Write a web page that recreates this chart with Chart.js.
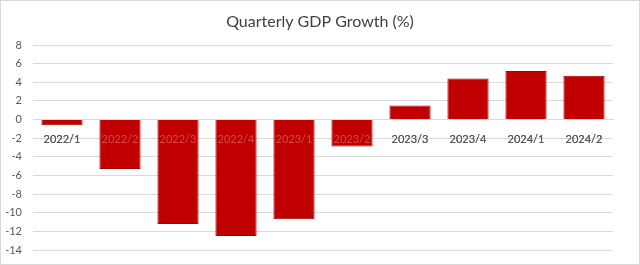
<!DOCTYPE html>
<html lang="en">
<head>
    <meta charset="UTF-8">
    <title>Quarterly GDP Growth (%)</title>
    <style>
        body {
            margin: 0;
            background: #ffffff;
        }
        .chart-box {
            width: 640px;
            height: 265px;
            box-sizing: border-box;
            border: 1px solid #d9d9d9;
            position: relative;
        }
    </style>
</head>
<body>
    <div class="chart-box">
        <canvas id="gdpChart"></canvas>
    </div>

    <script src="https://cdn.jsdelivr.net/npm/chart.js@4.4.3/dist/chart.umd.min.js"></script>
    <script>
        // datos
        const quarters = ['2022/1', '2022/2', '2022/3', '2022/4', '2023/1', '2023/2', '2023/3', '2023/4', '2024/1', '2024/2'];
        const growth = [-0.6, -5.3, -11.2, -12.5, -10.7, -2.9, 1.5, 4.4, 5.2, 4.7];
        const yTicks = [8, 6, 4, 2, 0, -2, -4, -6, -8, -10, -12, -14];
        const chartTitle = 'Quarterly GDP Growth (%)';

        // titulo centrado en todo el lienzo y etiquetas del eje x encima de las barras
        const extras = {
            id: 'extras',
            afterDatasetsDraw: (chart) => {
                const c = chart.ctx;
                c.save();
                chart.scales.x.drawLabels(chart.chartArea);
                c.restore();

                c.save();
                c.font = '16px Lato';
                c.fillStyle = '#404040';
                c.textAlign = 'center';
                c.textBaseline = 'middle';
                c.fillText(chartTitle, chart.width / 2, 21);
                c.restore();
            }
        };

        const ctx = document.getElementById('gdpChart').getContext('2d');
        new Chart(ctx, {
            type: 'bar',
            data: {
                labels: quarters,
                datasets: [{
                    label: 'Growth',
                    data: growth,
                    backgroundColor: '#c00000',
                    borderColor: '#a80000',
                    borderWidth: 1,
                    barPercentage: 0.71,
                    categoryPercentage: 1
                }]
            },
            options: {
                responsive: true,
                maintainAspectRatio: false,
                animation: false,
                layout: {
                    padding: { left: 0, right: 26, top: 44, bottom: 14 }
                },
                plugins: {
                    legend: { display: false },
                    tooltip: { enabled: false },
                    title: { display: false }
                },
                scales: {
                    x: {
                        position: { y: 0 },
                        grid: { display: false },
                        border: { color: '#d9d9d9' },
                        ticks: {
                            // sobre las barras rojas el texto se ve rojo claro
                            color: (c) => growth[c.index] < -1 ? '#d64848' : '#595959',
                            font: { family: 'Lato', size: 11 },
                            padding: 5,
                            maxRotation: 0,
                            autoSkip: false
                        }
                    },
                    y: {
                        min: -14,
                        max: 8,
                        afterBuildTicks: (axis) => {
                            axis.ticks = yTicks.map(v => ({ value: v }));
                        },
                        afterFit: (axis) => {
                            axis.width = 32;
                        },
                        grid: {
                            color: '#d9d9d9',
                            tickLength: 8,
                            tickColor: 'rgba(0,0,0,0)'
                        },
                        border: { display: false },
                        ticks: {
                            color: '#595959',
                            font: { family: 'Lato', size: 11 },
                            padding: 3
                        }
                    }
                }
            },
            plugins: [extras]
        });
    </script>
</body>
</html>
